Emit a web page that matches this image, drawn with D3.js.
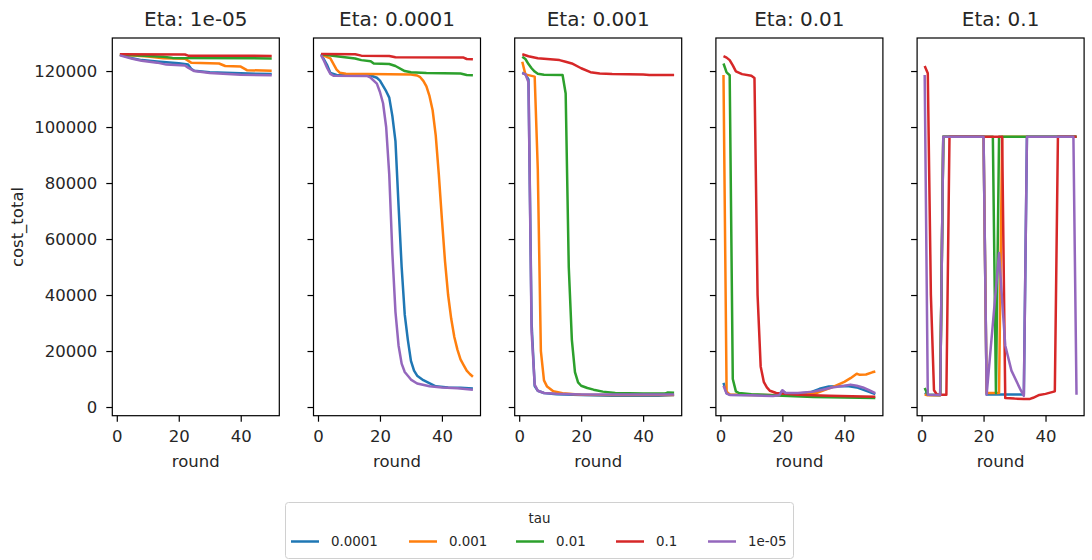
<!doctype html>
<html lang="en">
<head>
<meta charset="utf-8">
<title>cost_total by round</title>
<script src="https://d3js.org/d3.v7.min.js"></script>
<style>
  body { margin: 0; background: #fff; }
  text { font-family: "DejaVu Sans", sans-serif; fill: #262626; }
  .tick line, .domain { stroke: #000; }
</style>
</head>
<body>
<div id="chart"></div>
<script>
// facet titles and legend entries
const etas = ['1e-05', '0.0001', '0.001', '0.01', '0.1'];
const taus = ['0.0001', '0.001', '0.01', '0.1', '1e-05'];
const xTicks = [0, 20, 40];
const yTicks = [0, 20000, 40000, 60000, 80000, 100000, 120000];

// each panel: one series per tau (same order as taus), points are [round, cost_total]
const eta_1e05 = [
  [[1,125800],[5,124600],[8,123900],[13,123400],[20,122800],[23,122300],[24,120800],[25,120100],[30,119600],[40,119200],[50,118900]],
  [[1,125900],[10,125200],[15,124600],[22,124400],[24,123000],[33,122700],[35,121800],[40,121600],[42,120300],[50,120100]],
  [[1,125900],[15,125100],[18,124700],[50,124500]],
  [[1,126000],[22,125900],[23,125500],[50,125400]],
  [[1,125600],[5,124400],[8,123700],[13,123000],[16,122300],[22,122000],[23,121200],[25,120000],[30,119300],[40,118700],[50,118500]]
];
const eta_0_0001 = [
  [[1,126000],[3,122000],[4,119300],[6,118600],[17,118400],[19,117600],[20,116600],[22,112800],[23,110500],[24,104000],[25,95000],[26,72000],[27,50000],[28,33000],[29,24000],[30,16500],[31,13000],[32,11200],[34,9600],[38,7400],[42,7000],[46,6900],[50,6600]],
  [[1,126000],[3,125000],[4,124500],[6,120500],[7,119400],[9,119000],[30,118800],[32,118400],[33,117800],[34,116500],[35,114500],[36,111000],[37,106000],[38,97000],[39,83000],[40,67000],[41,52000],[42,40000],[43,31500],[44,25000],[45,20500],[46,17000],[47,15000],[48,13000],[49,11800],[50,10800]],
  [[1,126000],[6,125300],[12,124500],[14,123900],[17,123500],[18,122700],[23,122500],[25,121800],[28,120000],[30,119600],[35,119300],[46,119100],[48,118600],[50,118500]],
  [[1,126100],[12,126000],[14,125500],[23,125400],[25,124900],[47,124800],[48,124300],[50,124200]],
  [[1,125700],[2,123500],[3,121000],[4,119000],[5,118300],[16,118200],[17,117600],[19,115500],[20,112500],[21,108500],[22,100000],[23,83000],[24,55000],[25,34000],[26,22000],[27,15500],[28,12500],[30,9800],[32,8400],[36,7400],[40,7000],[45,6700],[50,6200]]
];
const eta_0_001 = [
  [[1,119400],[2,118800],[3,117000],[4,30000],[5,7500],[6,5800],[8,5000],[12,4600],[20,4300],[30,4000],[45,4000],[50,4300]],
  [[1,123300],[2,118800],[5,118000],[6,85000],[7,20000],[8,9500],[9,7300],[11,5600],[14,4900],[20,4400],[30,4300],[50,4300]],
  [[1,125100],[2,124300],[3,122500],[4,121000],[5,119800],[6,119000],[8,118700],[14,118600],[15,112000],[16,50000],[17,24000],[18,12500],[19,8800],[20,7600],[22,6800],[24,6200],[27,5500],[31,5000],[40,4800],[47,4800],[48,5200],[50,5100]],
  [[1,126000],[3,125300],[6,124600],[10,124200],[13,123900],[15,123300],[17,122700],[20,121000],[23,119600],[26,119100],[30,118900],[40,118800],[42,118600],[50,118600]],
  [[1,119200],[2,118900],[3,116000],[4,27000],[5,8000],[6,5800],[8,5000],[12,4700],[20,4500],[30,4500],[50,4500]]
];
const eta_0_01 = [
  [[1,8600],[2,5000],[3,4400],[10,4300],[17,4200],[19,4500],[20,5800],[21,5000],[25,4800],[29,5200],[32,6500],[35,7300],[38,7400],[41,7500],[44,7000],[46,6200],[48,5400],[50,4600]],
  [[1,118600],[2,5500],[3,4500],[10,4300],[20,4300],[28,4600],[31,5000],[34,6200],[36,7000],[38,8000],[40,9000],[42,10300],[44,11900],[45,11500],[47,11600],[49,12400],[50,12700]],
  [[1,122700],[2,119500],[3,118500],[4,10000],[5,5600],[6,5000],[10,4600],[20,4000],[30,3600],[40,3400],[50,3200]],
  [[1,125300],[2,124800],[3,123900],[4,122000],[5,119900],[7,118900],[10,118300],[11,117500],[12,40000],[13,14500],[14,9000],[15,7000],[16,5800],[18,5000],[25,4400],[35,4000],[50,3700]],
  [[1,7600],[2,4800],[3,4300],[10,4200],[17,3900],[19,4200],[20,6000],[21,5000],[25,5000],[30,5500],[33,6200],[36,7000],[40,7600],[42,8000],[44,7600],[46,7000],[48,6000],[50,5000]]
];
const eta_0_1 = [
  [[1,5000],[2,4400],[6,4300],[7,96500],[20,96500],[21,4500],[33,4500],[34,96500],[50,96500]],
  [[1,4500],[2,4200],[6,4200],[7,96500],[20,96500],[21,5000],[25,5000],[26,96500],[50,96500]],
  [[1,6800],[2,4400],[6,4300],[7,96500],[23,96500],[24,5000],[25,96500],[50,96500]],
  [[1,121800],[2,119200],[3,40000],[4,6000],[5,4400],[8,4400],[9,96500],[26,96500],[27,3200],[30,3000],[33,2900],[35,2900],[36,3300],[38,4300],[40,4700],[43,5600],[44,96500],[50,96500]],
  [[1,118600],[2,4400],[6,4300],[7,96500],[20,96500],[21,4400],[25,55000],[26,38000],[27,22000],[29,13000],[32,6000],[33,4000],[34,96500],[49,96500],[50,4400]]
];
const panels = [eta_1e05, eta_0_0001, eta_0_001, eta_0_01, eta_0_1];

const colors = ['#1f77b4', '#ff7f0e', '#2ca02c', '#d62728', '#9467bd'];

const w = 1092, h = 560;
const left0 = 112.3, step = 201.2, pw = 167;
const plotTop = 38, plotBottom = 415.7;

const svg = d3.select('#chart').append('svg')
  .attr('width', w).attr('height', h);

const x = d3.scaleLinear().domain([-1.45, 52.45]).range([0, pw]);
const y = d3.scaleLinear().domain([-3100, 131800]).range([plotBottom, plotTop]);

const line = d3.line().x(d => x(d[0])).y(d => y(d[1]));

panels.forEach((series, i) => {
  const g = svg.append('g').attr('transform', 'translate(' + (left0 + i * step) + ',0)');

  // lines
  series.forEach((pts, j) => {
    g.append('path')
      .datum(pts)
      .attr('d', line)
      .attr('fill', 'none')
      .attr('stroke', colors[j])
      .attr('stroke-width', 2.5)
      .attr('stroke-linejoin', 'round');
  });

  // frame
  g.append('rect')
    .attr('x', 0).attr('y', plotTop)
    .attr('width', pw).attr('height', plotBottom - plotTop)
    .attr('fill', 'none').attr('stroke', '#000').attr('stroke-width', 1.2);

  // axes
  const xAxis = d3.axisBottom(x).tickValues(xTicks).tickSize(6).tickSizeOuter(0).tickPadding(9);
  g.append('g').attr('transform', 'translate(0,' + plotBottom + ')').call(xAxis)
    .call(a => a.select('.domain').remove())
    .selectAll('text').style('font-size', '16.5px');

  const yAxis = d3.axisLeft(y).tickValues(yTicks).tickSize(6).tickSizeOuter(0).tickPadding(9)
    .tickFormat(i === 0 ? d3.format('d') : () => '');
  g.append('g').call(yAxis)
    .call(a => a.select('.domain').remove())
    .selectAll('text').style('font-size', '16.5px');
  g.selectAll('.tick line').attr('stroke-width', 1.2);

  // title and x label
  g.append('text')
    .attr('x', pw / 2).attr('y', 26)
    .attr('text-anchor', 'middle')
    .style('font-size', '20px')
    .text('Eta: ' + etas[i]);

  g.append('text')
    .attr('x', pw / 2).attr('y', 467)
    .attr('text-anchor', 'middle')
    .style('font-size', '16.5px')
    .text('round');
});

// y label
svg.append('text')
  .attr('transform', 'translate(23,227) rotate(-90)')
  .attr('text-anchor', 'middle')
  .style('font-size', '16.5px')
  .text('cost_total');

// legend
const legend = svg.append('g');
legend.append('rect')
  .attr('x', 285.5).attr('y', 502.5)
  .attr('width', 508).attr('height', 56)
  .attr('rx', 3)
  .attr('fill', '#fff')
  .attr('stroke', '#d0d0d0');

legend.append('text')
  .attr('x', 539.5).attr('y', 523)
  .attr('text-anchor', 'middle')
  .style('font-size', '13.4px')
  .text('tau');

const handleX = [291, 409, 516, 616, 708];
taus.forEach((t, j) => {
  legend.append('line')
    .attr('x1', handleX[j]).attr('x2', handleX[j] + 28)
    .attr('y1', 541.5).attr('y2', 541.5)
    .attr('stroke', colors[j]).attr('stroke-width', 2.5);
  legend.append('text')
    .attr('x', handleX[j] + 40).attr('y', 546)
    .style('font-size', '13.4px')
    .text(t);
});
</script>
</body>
</html>
